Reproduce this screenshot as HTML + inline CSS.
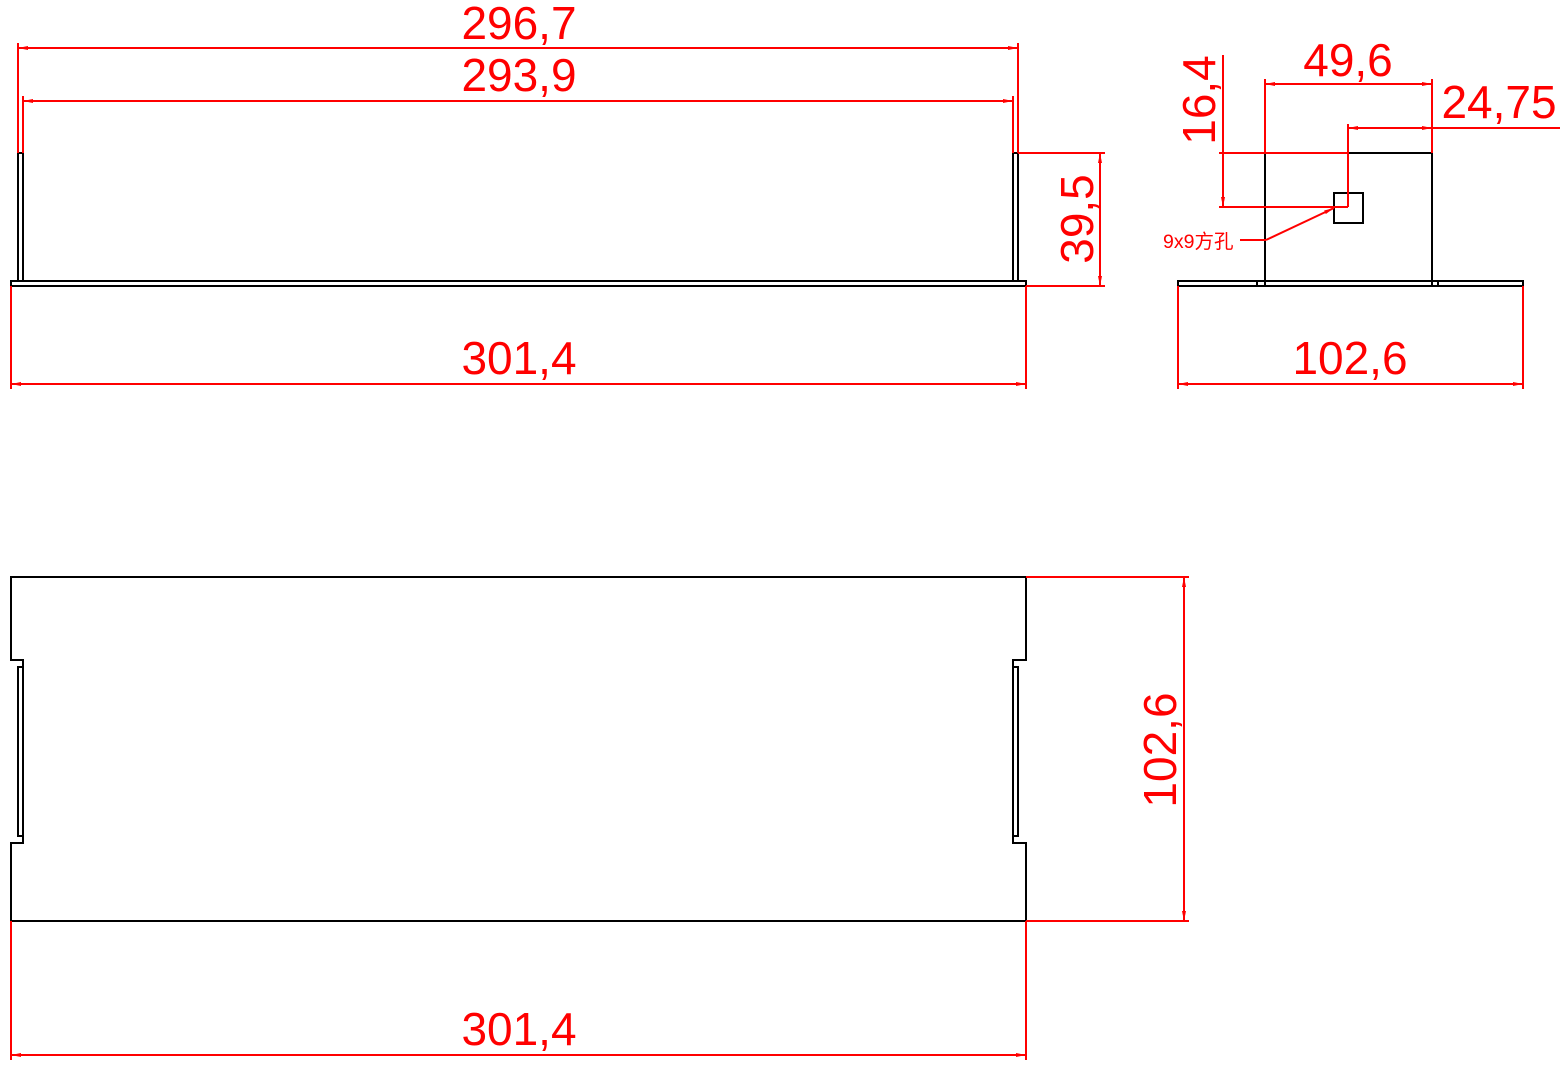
<!DOCTYPE html>
<html><head><meta charset="utf-8"><style>
html,body{margin:0;padding:0;background:#fff;}
svg{display:block;}
text{font-family:"Liberation Sans","Noto Sans CJK SC",sans-serif;fill:#ff0000;}
</style></head><body>
<svg width="1568" height="1068" viewBox="0 0 1568 1068" xmlns="http://www.w3.org/2000/svg">
<defs>
<marker id="a" viewBox="0 0 10 4" refX="10" refY="2" markerWidth="10" markerHeight="4" markerUnits="userSpaceOnUse" orient="auto-start-reverse"><path d="M0,0 L10,2 L0,4 z" fill="#ff0000"/></marker>
</defs>
<g fill="none" stroke="#000" stroke-width="2">
<rect x="11" y="281" width="1015" height="5"/>
<rect x="18" y="153" width="5" height="128"/>
<rect x="1013" y="153" width="5" height="128"/>
<rect x="1178" y="281" width="345" height="5"/>
<rect x="1265" y="153" width="167" height="133"/>
<line x1="1257" y1="281" x2="1257" y2="286"/>
<line x1="1438" y1="281" x2="1438" y2="286"/>
<rect x="1334" y="193" width="29" height="30"/>
<path d="M11,577 H1026 V660 H1013 V843 H1026 V921 H11 V843 H23 V660 H11 Z"/>
<rect x="18" y="667" width="5" height="169"/>
<rect x="1013" y="667" width="5" height="169"/>
</g>
<g stroke="#ff0000" stroke-width="2" fill="none">
<line x1="18" y1="43" x2="18" y2="153"/>
<line x1="1018" y1="43" x2="1018" y2="153"/>
<line x1="18" y1="48" x2="1018" y2="48" marker-start="url(#a)" marker-end="url(#a)"/>
<line x1="23" y1="96" x2="23" y2="153"/>
<line x1="1013" y1="96" x2="1013" y2="153"/>
<line x1="23" y1="101" x2="1013" y2="101" marker-start="url(#a)" marker-end="url(#a)"/>
<line x1="11" y1="286" x2="11" y2="389"/>
<line x1="1026" y1="286" x2="1026" y2="389"/>
<line x1="11" y1="384" x2="1026" y2="384" marker-start="url(#a)" marker-end="url(#a)"/>
<line x1="1018" y1="153" x2="1105" y2="153"/>
<line x1="1026" y1="286" x2="1105" y2="286"/>
<line x1="1100" y1="153" x2="1100" y2="286" marker-start="url(#a)" marker-end="url(#a)"/>
<line x1="1265" y1="79" x2="1265" y2="153"/>
<line x1="1432" y1="79" x2="1432" y2="153"/>
<line x1="1265" y1="84" x2="1432" y2="84" marker-start="url(#a)" marker-end="url(#a)"/>
<line x1="1348" y1="124" x2="1348" y2="207"/>
<line x1="1348" y1="128" x2="1432" y2="128" marker-start="url(#a)" marker-end="url(#a)"/>
<line x1="1432" y1="128" x2="1560" y2="128"/>
<line x1="1219" y1="153" x2="1348" y2="153"/>
<line x1="1219" y1="207" x2="1348" y2="207"/>
<line x1="1223" y1="55" x2="1223" y2="153"/>
<line x1="1223" y1="153" x2="1223" y2="207" marker-end="url(#a)"/>
<line x1="1240" y1="240" x2="1266" y2="240"/>
<line x1="1266" y1="240" x2="1334" y2="208" marker-end="url(#a)"/>
<line x1="1178" y1="286" x2="1178" y2="389"/>
<line x1="1523" y1="286" x2="1523" y2="389"/>
<line x1="1178" y1="384" x2="1523" y2="384" marker-start="url(#a)" marker-end="url(#a)"/>
<line x1="1026" y1="577" x2="1189" y2="577"/>
<line x1="1026" y1="921" x2="1189" y2="921"/>
<line x1="1184" y1="577" x2="1184" y2="921" marker-start="url(#a)" marker-end="url(#a)"/>
<line x1="11" y1="921" x2="11" y2="1060"/>
<line x1="1026" y1="921" x2="1026" y2="1060"/>
<line x1="11" y1="1055" x2="1026" y2="1055" marker-start="url(#a)" marker-end="url(#a)"/>
</g>
<g font-size="46" text-anchor="middle">
<text x="519" y="39">296,7</text>
<text x="519" y="91">293,9</text>
<text x="519" y="374">301,4</text>
<text x="519" y="1045">301,4</text>
<text x="1348" y="76">49,6</text>
<text x="1499" y="118">24,75</text>
<text x="1350" y="374">102,6</text>
<text transform="translate(1093,219) rotate(-90)">39,5</text>
<text transform="translate(1215,100) rotate(-90)">16,4</text>
<text transform="translate(1176,750) rotate(-90)">102,6</text>
</g>
<text x="1163" y="248" font-size="19.5">9x9方孔</text>
</svg>
</body></html>
